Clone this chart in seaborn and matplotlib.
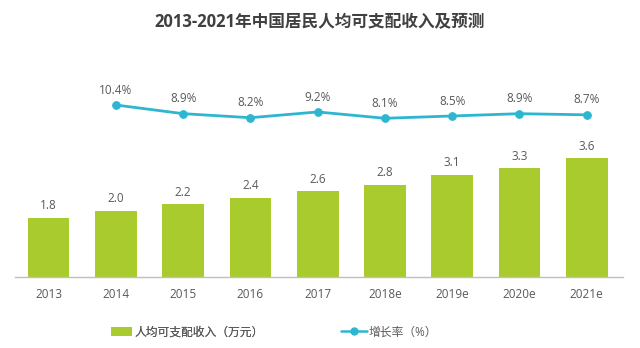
import matplotlib
matplotlib.use("Agg")
import matplotlib.pyplot as plt
import seaborn as sns
import numpy as np
import pandas as pd
from matplotlib.patches import Patch
from matplotlib.lines import Line2D

years = ["2013", "2014", "2015", "2016", "2017", "2018e", "2019e", "2020e", "2021e"]
income = [1.8, 2.0, 2.2, 2.4, 2.6, 2.8, 3.1, 3.3, 3.6]
growth_years = ["2014", "2015", "2016", "2017", "2018e", "2019e", "2020e", "2021e"]
growth = [10.4, 8.9, 8.2, 9.2, 8.1, 8.5, 8.9, 8.7]

title = "2013-2021年中国居民人均可支配收入及预测"
bar_label = "人均可支配收入（万元）"
line_label = "增长率（%）"

sns.set_theme(style="white")
plt.rcParams["font.family"] = ["Open Sans", "Noto Sans CJK SC", "DejaVu Sans"]

BAR = "#A9CB2E"
LINE = "#2EB6D1"
TXT = "#595959"

fig = plt.figure(figsize=(6.4, 3.48), dpi=100)
ax = fig.add_axes([15/640, (348-277)/348, 608/640, 217/348])

df = pd.DataFrame({"year": years, "income": income})
sns.barplot(data=df, x="year", y="income", color=BAR, width=0.62, ax=ax,
            saturation=1, edgecolor="none")
ax.set_xlim(-0.5, 8.54)
ax.set_ylim(0, 6.58)
for i, v in enumerate(income):
    ax.annotate(f"{v:.1f}", (i, v), xytext=(0, 4), textcoords="offset points",
                ha="center", va="bottom", fontsize=8.5, color=TXT)

ax2 = ax.twinx()
pos = [years.index(y) for y in growth_years]
gdf = pd.DataFrame({"pos": pos, "growth": growth})
sns.lineplot(data=gdf, x="pos", y="growth", color=LINE, marker="o", markersize=5.5,
             markeredgecolor=LINE, linewidth=2, ax=ax2)
ax2.set_ylim(-19.4, 18.2)
ax2.set_xlim(-0.5, 8.54)
for p, v in zip(pos, growth):
    ax2.annotate(f"{v:.1f}%", (p, v), xytext=(0, 6), textcoords="offset points",
                 ha="center", va="bottom", fontsize=8.5, color=TXT)

for a in (ax, ax2):
    for s in ["top", "right", "left"]:
        a.spines[s].set_visible(False)
    a.set_yticks([])
    a.set_ylabel("")
    a.set_xlabel("")
ax2.spines["bottom"].set_visible(False)
ax.spines["bottom"].set_color("#BFBFBF")
ax.spines["bottom"].set_linewidth(1)
ax.tick_params(axis="x", length=0, pad=8, labelsize=8.5, labelcolor=TXT)

fig.text(0.5, 1 - 22/348, title, ha="center", va="center", fontsize=12,
         fontweight="bold", color="#404040")

h1 = Patch(facecolor=BAR, edgecolor="none")
leg1 = fig.legend([h1], [bar_label], loc="center left", bbox_to_anchor=(100/640, 1 - 332/348),
                  frameon=False, fontsize=8.5, handlelength=1.8, handleheight=0.7,
                  handletextpad=0.2, labelcolor=TXT)
h2 = Line2D([0], [0], color=LINE, marker="o", markersize=5, linewidth=1.8)
leg2 = fig.legend([h2], [line_label], loc="center left", bbox_to_anchor=(330/640, 1 - 332/348),
                  frameon=False, fontsize=8.5, handlelength=2.2,
                  handletextpad=0.2, labelcolor=TXT)
fig.add_artist(leg1)

fig.savefig("out.png", dpi=100, facecolor="white")
